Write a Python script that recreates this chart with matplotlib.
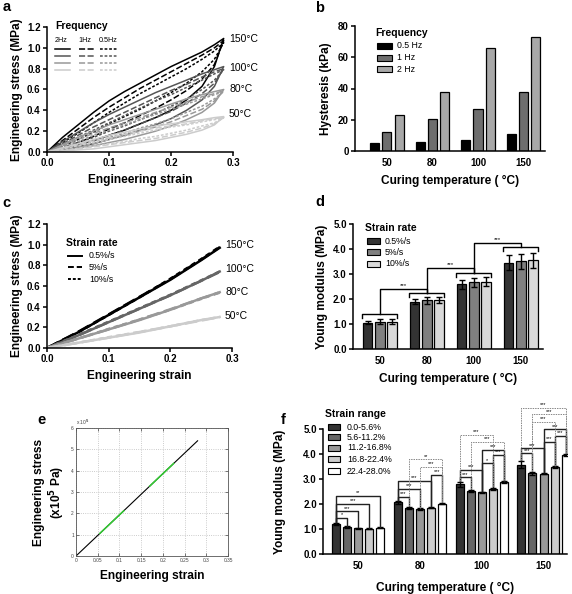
import matplotlib
matplotlib.use("Agg")
import matplotlib.pyplot as plt
from matplotlib.lines import Line2D
from matplotlib.patches import Rectangle
import numpy as np

plt.rcParams['font.family'] = ['Liberation Sans', 'DejaVu Sans']
plt.rcParams['font.weight'] = 'bold'
plt.rcParams['axes.labelweight'] = 'bold'
plt.rcParams['axes.linewidth'] = 1.1

W, H = 572, 594

# ---------------- data ----------------
# Panel a: hysteresis loops (upper = loading, lower = unloading) for 2Hz, 1Hz, 0.5Hz
strain_a = [0, 0.025, 0.05, 0.075, 0.1, 0.125, 0.15, 0.175, 0.2, 0.225, 0.25, 0.27, 0.285]
up_150 = [[0, .14, .26, .38, .49, .58, .66, .74, .82, .89, .96, 1.03, 1.09],
          [0, .11, .22, .33, .43, .52, .61, .69, .77, .85, .93, 1.00, 1.07],
          [0, .09, .18, .28, .38, .47, .56, .64, .72, .80, .89, .97, 1.05]]
lo_150 = [[0, .03, .07, .11, .16, .21, .27, .33, .40, .50, .63, .82, 1.09],
          [0, .04, .09, .15, .22, .28, .35, .42, .50, .59, .70, .84, 1.07],
          [0, .05, .12, .19, .27, .34, .41, .49, .57, .66, .77, .89, 1.05]]
up_100 = [[0, .10, .19, .28, .36, .43, .50, .57, .63, .69, .75, .79, .82],
          [0, .08, .16, .24, .31, .38, .45, .52, .59, .65, .72, .77, .80],
          [0, .07, .14, .21, .28, .35, .42, .49, .55, .62, .69, .75, .79]]
lo_100 = [[0, .02, .05, .08, .12, .16, .21, .26, .32, .40, .50, .63, .82],
          [0, .03, .07, .11, .16, .21, .27, .33, .39, .47, .56, .66, .80],
          [0, .04, .09, .14, .20, .25, .31, .37, .44, .51, .60, .69, .79]]
up_80 = [[0, .07, .14, .20, .26, .31, .36, .41, .46, .51, .55, .58, .60],
         [0, .06, .12, .18, .23, .28, .33, .38, .43, .48, .53, .56, .59],
         [0, .05, .10, .16, .21, .26, .31, .36, .41, .46, .51, .55, .58]]
lo_80 = [[0, .02, .04, .06, .09, .12, .16, .20, .25, .31, .38, .47, .60],
         [0, .02, .05, .08, .12, .16, .20, .24, .29, .35, .41, .49, .59],
         [0, .03, .06, .10, .14, .18, .23, .27, .32, .38, .44, .51, .58]]
up_50 = [[0, .04, .08, .12, .16, .19, .22, .25, .27, .29, .31, .33, .34],
         [0, .035, .07, .105, .14, .17, .20, .23, .25, .27, .30, .32, .33],
         [0, .03, .06, .09, .12, .15, .18, .21, .24, .26, .29, .31, .33]]
lo_50 = [[0, .01, .02, .03, .05, .07, .09, .11, .14, .17, .21, .26, .34],
         [0, .01, .03, .05, .07, .09, .11, .13, .16, .19, .23, .27, .33],
         [0, .015, .035, .055, .08, .10, .13, .15, .18, .21, .25, .28, .33]]
temps_a = ['150°C', '100°C', '80°C', '50°C']
freq_labels = ['2Hz', '1Hz', '0.5Hz']

# Panel b: hysteresis (kPa)
categories = ['50', '80', '100', '150']
hyst_05hz = [5.0, 5.5, 7.3, 10.8]
hyst_1hz = [12.0, 20.5, 27.0, 38.0]
hyst_2hz = [23.0, 38.0, 66.0, 73.0]
freq_b_labels = ['0.5 Hz', '1 Hz', '2 Hz']

# Panel c: stress-strain at three strain rates
strain_c = [0.0, 0.05, 0.1, 0.15, 0.2, 0.25, 0.28]
c_150 = [[0, 0.15, 0.32, 0.49, 0.66, 0.85, 0.97],
         [0, 0.155, 0.325, 0.495, 0.665, 0.855, 0.975],
         [0, 0.15, 0.32, 0.49, 0.67, 0.86, 0.98]]
c_100 = [[0, 0.12, 0.25, 0.38, 0.51, 0.65, 0.74],
         [0, 0.12, 0.25, 0.38, 0.51, 0.65, 0.735],
         [0, 0.125, 0.255, 0.385, 0.515, 0.655, 0.74]]
c_80 = [[0, 0.09, 0.18, 0.27, 0.37, 0.48, 0.54],
        [0, 0.09, 0.18, 0.275, 0.375, 0.48, 0.535],
        [0, 0.09, 0.185, 0.275, 0.37, 0.475, 0.54]]
c_50 = [[0, 0.05, 0.10, 0.15, 0.21, 0.27, 0.30],
        [0, 0.05, 0.10, 0.155, 0.21, 0.265, 0.30],
        [0, 0.05, 0.105, 0.155, 0.21, 0.27, 0.30]]
rate_labels = ['0.5%/s', '5%/s', '10%/s']

# Panel d: Young modulus vs curing temperature (strain rates)
ym_05 = [1.05, 1.90, 2.60, 3.45]
ym_5 = [1.10, 1.95, 2.68, 3.52]
ym_10 = [1.10, 1.95, 2.70, 3.55]
err_05 = [0.06, 0.10, 0.18, 0.30]
err_5 = [0.09, 0.13, 0.18, 0.30]
err_10 = [0.09, 0.12, 0.17, 0.30]

# Panel e: stress-strain with fit regions
strain_e = [0.0, 0.055, 0.11, 0.17, 0.225, 0.28]
stress_e = [0.0, 1.06, 2.12, 3.28, 4.34, 5.40]

# Panel f: Young modulus per strain range
range_labels = ['0.0-5.6%', '5.6-11.2%', '11.2-16.8%', '16.8-22.4%', '22.4-28.0%']
f_r1 = [1.20, 2.07, 2.80, 3.58]
f_r2 = [1.08, 1.86, 2.52, 3.23]
f_r3 = [1.03, 1.80, 2.47, 3.22]
f_r4 = [1.01, 1.86, 2.60, 3.48]
f_r5 = [1.05, 2.02, 2.88, 3.97]
f_e1 = [0.04, 0.06, 0.10, 0.15]
f_e2 = [0.03, 0.04, 0.04, 0.05]
f_e3 = [0.02, 0.03, 0.03, 0.03]
f_e4 = [0.02, 0.03, 0.05, 0.03]
f_e5 = [0.02, 0.03, 0.03, 0.03]
# significance comparisons: (group, bar_i, bar_j, height, label, dashed)
f_sig = [
    (0, 0, 1, 1.44, '*', False), (0, 0, 2, 1.71, '***', False),
    (0, 0, 3, 2.01, '***', False), (0, 0, 4, 2.33, '**', False),
    (1, 0, 1, 2.29, '***', False), (1, 0, 2, 2.60, '***', False),
    (1, 0, 3, 2.92, '***', False), (1, 3, 4, 3.16, '***', False),
    (1, 2, 4, 3.49, '***', True), (1, 1, 4, 3.79, '**', True),
    (2, 0, 1, 3.07, '***', False), (2, 0, 2, 3.36, '***', False),
    (2, 2, 3, 3.63, '*', False), (2, 3, 4, 3.96, '***', False),
    (2, 2, 4, 4.16, '***', False), (2, 1, 4, 4.49, '***', True),
    (2, 0, 3, 4.76, '***', True),
    (3, 0, 1, 4.03, '***', False), (3, 0, 2, 4.23, '***', False),
    (3, 2, 3, 4.49, '***', False), (3, 3, 4, 4.72, '***', False),
    (3, 2, 4, 4.99, '***', False), (3, 1, 3, 5.29, '***', True),
    (3, 1, 4, 5.59, '***', True), (3, 0, 4, 5.85, '***', True),
]
# panel d group brackets and connections
d_bracket_h = [1.39, 2.26, 3.06, 4.08]
d_conn_h = [2.41, 3.26, 4.24]

# ---------------- helpers ----------------
fig = plt.figure(figsize=(W / 100, H / 100), dpi=100)


def add_ax(l, t, r, b):
    return fig.add_axes([l / W, 1 - b / H, (r - l) / W, (b - t) / H])


def fx(x):
    return x / W


def fy(y):
    return 1 - y / H


TICK_FS = 7
LAB_FS = 8.6
LET_FS = 10.5


def prism_style(ax):
    for s in ['top', 'right']:
        ax.spines[s].set_visible(False)
    ax.tick_params(direction='out', length=3, width=1.1, labelsize=TICK_FS, pad=1.5)
    for lab in ax.get_xticklabels() + ax.get_yticklabels():
        lab.set_fontweight('bold')


# panel letters
for letter, (x, y) in zip('abcdef', [(7, 7), (320, 8), (6, 203), (320, 202), (42, 420), (283, 420)]):
    fig.text(fx(x), fy(y), letter, fontsize=LET_FS, fontweight='bold', ha='center', va='center')

# ---------------- panel a ----------------
ax = add_ax(47, 27, 233, 152)
cols_a = ['#000000', '#555555', '#999999', '#cccccc']
styles = ['-', (0, (4, 1.6)), (0, (1.8, 1.2))]
for ups, los, col in zip([up_150, up_100, up_80, up_50], [lo_150, lo_100, lo_80, lo_50], cols_a):
    for k in range(3):
        xs = list(strain_a) + list(strain_a[::-1])
        ys = list(ups[k]) + list(los[k][::-1])
        ax.plot(xs, ys, color=col, lw=1.1, ls=styles[k])
ax.set_xlim(0, 0.3)
ax.set_ylim(0, 1.2)
ax.set_xticks([0, 0.1, 0.2, 0.3])
ax.set_yticks(np.arange(0, 1.21, 0.2))
ax.xaxis.set_major_formatter(matplotlib.ticker.FormatStrFormatter('%.1f'))
ax.yaxis.set_major_formatter(matplotlib.ticker.FormatStrFormatter('%.1f'))
prism_style(ax)
ax.set_xlabel('Engineering strain', fontsize=LAB_FS, labelpad=4)
ax.set_ylabel('Engineering stress (MPa)', fontsize=LAB_FS, labelpad=3)
for lab, yy in zip(temps_a, [39, 68, 89, 114]):
    fig.text(fx(229), fy(yy), lab, fontsize=7.5, fontweight='normal', va='center')
fig.text(fx(55), fy(26), 'Frequency', fontsize=7.5, fontweight='bold', va='center')
for hx, lab in zip([55, 78, 99], freq_labels):
    fig.text(fx(hx), fy(40), lab, fontsize=5.2, fontweight='normal', va='center')
for col, yy in zip(cols_a, [49, 56, 63, 70]):
    for k, (x0, x1) in enumerate([(55, 70), (79, 95), (100, 117)]):
        fig.add_artist(Line2D([fx(x0), fx(x1)], [fy(yy), fy(yy)], color=col, lw=1.1,
                              ls=styles[k], transform=fig.transFigure))

# ---------------- panel b ----------------
ax = add_ax(355, 26, 545, 151)
xpos = np.arange(len(categories))
cols_b = ['#000000', '#6e6e6e', '#a8a8a8']
for vals, off, col, lab in zip([hyst_05hz, hyst_1hz, hyst_2hz], [-0.27, 0, 0.27], cols_b, freq_b_labels):
    ax.bar(xpos + off, vals, width=0.2, color=col, edgecolor='black', lw=0.9, label=lab)
ax.set_xlim(-0.7, 3.47)
ax.set_ylim(0, 80)
ax.set_yticks([0, 20, 40, 60, 80])
ax.set_xticks(xpos)
ax.set_xticklabels(categories)
prism_style(ax)
ax.tick_params(axis='x', length=0, pad=5)
ax.set_xlabel('Curing temperature ( °C)', fontsize=LAB_FS, labelpad=5)
ax.set_ylabel('Hysteresis (kPa)', fontsize=LAB_FS, labelpad=4)
fig.text(fx(375), fy(33), 'Frequency', fontsize=7.5, fontweight='bold', va='center')
for col, lab, yy in zip(cols_b, freq_b_labels, [46, 58, 69]):
    fig.add_artist(Rectangle((fx(377), fy(yy + 3)), (15) / W, 6 / H, facecolor=col,
                             edgecolor='black', lw=0.8, transform=fig.transFigure))
    fig.text(fx(397), fy(yy), lab, fontsize=6.3, fontweight='normal', va='center')

# ---------------- panel c ----------------
ax = add_ax(47, 224, 232, 348)
cols_c = ['#000000', '#666666', '#999999', '#cccccc']
styles_c = ['-', (0, (5, 2)), (0, (2, 1.5))]
for series, col in zip([c_150, c_100, c_80, c_50], cols_c):
    for k in range(3):
        ax.plot(strain_c, series[k], color=col, lw=1.8, ls=styles_c[k])
ax.set_xlim(0, 0.3)
ax.set_ylim(0, 1.2)
ax.set_xticks([0, 0.1, 0.2, 0.3])
ax.set_yticks(np.arange(0, 1.21, 0.2))
ax.xaxis.set_major_formatter(matplotlib.ticker.FormatStrFormatter('%.1f'))
ax.yaxis.set_major_formatter(matplotlib.ticker.FormatStrFormatter('%.1f'))
prism_style(ax)
ax.set_xlabel('Engineering strain', fontsize=LAB_FS, labelpad=4)
ax.set_ylabel('Engineering stress (MPa)', fontsize=LAB_FS, labelpad=3)
for lab, yy in zip(temps_a, [245, 269, 292, 316]):
    fig.text(fx(225), fy(yy), lab, fontsize=7.5, fontweight='normal', va='center')
fig.text(fx(66), fy(243), 'Strain rate', fontsize=7.5, fontweight='bold', va='center')
leg_styles_c = ['-', (0, (3, 1.5)), (0, (1.5, 1))]
for k, (lab, yy) in enumerate(zip(rate_labels, [256, 267, 279])):
    fig.add_artist(Line2D([fx(68), fx(82)], [fy(yy), fy(yy)], color='black', lw=1.4,
                          ls=leg_styles_c[k], transform=fig.transFigure))
    fig.text(fx(89), fy(yy), lab, fontsize=6.3, fontweight='normal', va='center')

# ---------------- panel d ----------------
ax = add_ax(353, 224, 543, 349)
cols_d = ['#333333', '#808080', '#d9d9d9']
offs_d = [-0.26, 0, 0.26]
for vals, errs, off, col, lab in zip([ym_05, ym_5, ym_10], [err_05, err_5, err_10], offs_d, cols_d, rate_labels):
    ax.bar(xpos + off, vals, width=0.2, color=col, edgecolor='black', lw=0.9, label=lab,
           yerr=errs, capsize=2.2, error_kw=dict(elinewidth=1, capthick=1))
for i, h in enumerate(d_bracket_h):
    x0, x1 = i - 0.37, i + 0.37
    ax.plot([x0, x0, x1, x1], [h - 0.16, h, h, h - 0.16], color='black', lw=1)
for i, h in enumerate(d_conn_h):
    ax.plot([i, i, i + 1, i + 1], [d_bracket_h[i], h, h, d_bracket_h[i + 1]], color='black', lw=1)
    ax.text(i + 0.5, h + 0.03, '***', fontsize=4.5, ha='center', va='bottom', fontweight='normal')
ax.set_xlim(-0.57, 3.47)
ax.set_ylim(0, 5)
ax.set_yticks(np.arange(0, 5.1, 1.0))
ax.yaxis.set_major_formatter(matplotlib.ticker.FormatStrFormatter('%.1f'))
ax.set_xticks(xpos)
ax.set_xticklabels(categories)
prism_style(ax)
ax.tick_params(axis='x', length=0, pad=5)
ax.set_xlabel('Curing temperature ( °C)', fontsize=LAB_FS, labelpad=5)
ax.set_ylabel('Young modulus (MPa)', fontsize=LAB_FS, labelpad=4)
fig.text(fx(365), fy(228), 'Strain rate', fontsize=7.5, fontweight='bold', va='center')
for col, lab, yy in zip(cols_d, rate_labels, [241, 252, 264]):
    fig.add_artist(Rectangle((fx(367), fy(yy + 3)), 13 / W, 6 / H, facecolor=col,
                             edgecolor='black', lw=0.8, transform=fig.transFigure))
    fig.text(fx(385), fy(yy), lab, fontsize=6.3, fontweight='normal', va='center')

# ---------------- panel e ----------------
ax = add_ax(76, 428, 228, 556)
ax.plot(strain_e, stress_e, color='black', lw=0.8)
for a, b in [(1, 2), (3, 4)]:
    ax.plot(strain_e[a:b + 1], stress_e[a:b + 1], color='#33cc33', lw=1.1)
ax.set_xlim(0, 0.35)
ax.set_ylim(0, 6)
ax.set_xticks(np.arange(0, 0.351, 0.05))
ax.set_xticklabels(['0', '0.05', '0.1', '0.15', '0.2', '0.25', '0.3', '0.35'])
ax.set_yticks(range(0, 7))
ax.grid(True, ls=':', color='#bbbbbb', lw=0.6)
for s in ax.spines.values():
    s.set_linewidth(0.6)
    s.set_color('#555555')
ax.tick_params(direction='in', length=2, width=0.5, labelsize=3.5, pad=1.5, colors='#444444',
               top=True, right=True)
for lab in ax.get_xticklabels() + ax.get_yticklabels():
    lab.set_fontweight('normal')
ax.text(0.0, 1.01, 'x 10$^5$', transform=ax.transAxes, fontsize=3.5, fontweight='normal',
        color='#444444', va='bottom')
ax.set_xlabel('Engineering strain', fontsize=LAB_FS, labelpad=5)
ax.set_ylabel('Engineering stress\n(x10$^5$ Pa)', fontsize=LAB_FS, labelpad=3)

# ---------------- panel f ----------------
ax = add_ax(323, 401.5, 567, 554)
cols_f = ['#333333', '#666666', '#999999', '#cccccc', '#ffffff']
vals_f = [f_r1, f_r2, f_r3, f_r4, f_r5]
errs_f = [f_e1, f_e2, f_e3, f_e4, f_e5]
offs_f = [(k - 2) * 0.18 for k in range(5)]
for k in range(5):
    ax.bar(xpos + offs_f[k], vals_f[k], width=0.13, color=cols_f[k], edgecolor='black', lw=0.9,
           label=range_labels[k], yerr=errs_f[k], capsize=2,
           error_kw=dict(elinewidth=1, capthick=1))
for g, i, j, h, lab, dashed in f_sig:
    xi, xj = g + offs_f[i], g + offs_f[j]
    yi = vals_f[i][g] + errs_f[i][g] + 0.03
    yj = vals_f[j][g] + errs_f[j][g] + 0.03
    ax.plot([xi, xi, xj, xj], [yi, h, h, yj], color='#888888' if dashed else '#222222',
            lw=0.7 if dashed else 1.0, ls=(0, (1.5, 1)) if dashed else '-', clip_on=False)
    ax.text((xi + xj) / 2, h + 0.02, lab, fontsize=4, ha='center', va='bottom',
            fontweight='normal', clip_on=False)
ax.set_xlim(-0.57, 3.38)
ax.set_ylim(0, 6.1)
ax.spines['left'].set_bounds(0, 5)
ax.set_yticks(np.arange(0, 5.1, 1.0))
ax.yaxis.set_major_formatter(matplotlib.ticker.FormatStrFormatter('%.1f'))
ax.set_xticks(xpos)
ax.set_xticklabels(categories)
prism_style(ax)
ax.tick_params(axis='x', length=0, pad=5)
ax.set_xlabel('Curing temperature ( °C)', fontsize=LAB_FS, labelpad=8)
ax.set_ylabel('Young modulus (MPa)', fontsize=LAB_FS, labelpad=4)
ax.yaxis.set_label_coords(-0.15, 5 / 6.1 / 2)
fig.text(fx(325), fy(414), 'Strain range', fontsize=7.5, fontweight='bold', va='center')
for col, lab, yy in zip(cols_f, range_labels, [427, 437, 448, 459, 471]):
    fig.add_artist(Rectangle((fx(328), fy(yy + 3)), 12 / W, 6 / H, facecolor=col,
                             edgecolor='black', lw=0.8, transform=fig.transFigure))
    fig.text(fx(347), fy(yy), lab, fontsize=6.3, fontweight='normal', va='center')

fig.savefig('out.png', dpi=100)
